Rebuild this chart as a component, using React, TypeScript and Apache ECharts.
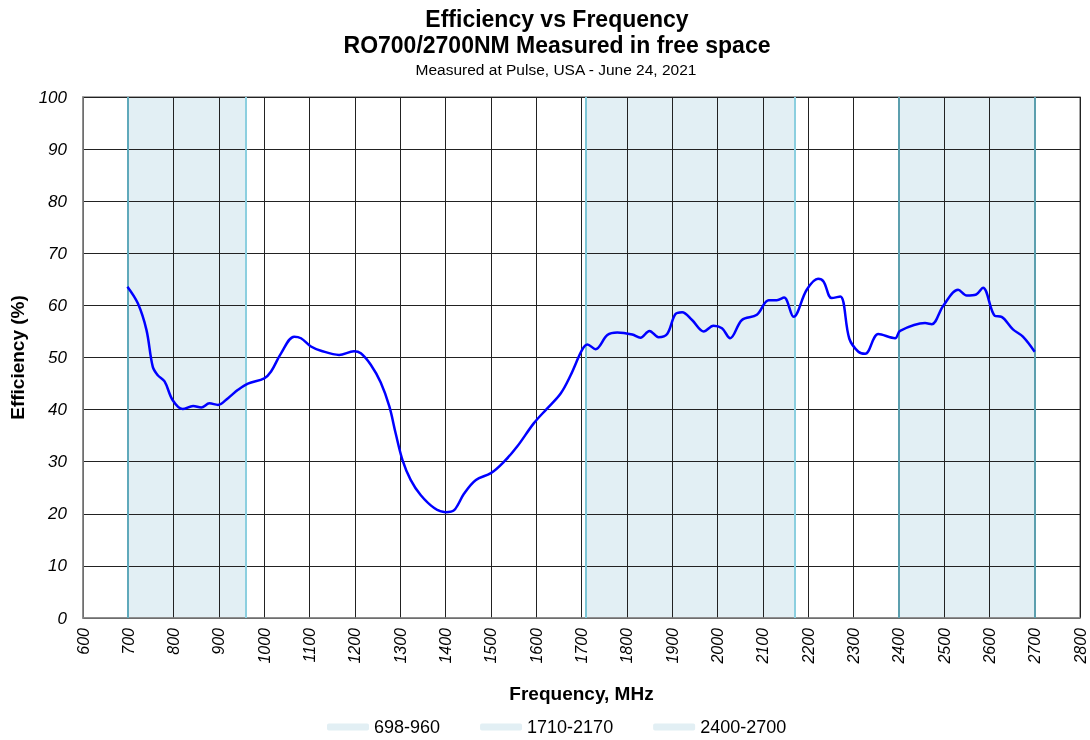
import React, { useEffect, useRef } from "react";
import * as echarts from "echarts";

const freqs = [698, 721, 740, 754, 765, 780, 798, 820, 843, 861, 879, 898, 920, 942, 964, 1000, 1015, 1037, 1066, 1081, 1103, 1125, 1165, 1198, 1213, 1235, 1257, 1276, 1290, 1305, 1323, 1345, 1375, 1400, 1419, 1441, 1467, 1500, 1529, 1558, 1595, 1624, 1654, 1676, 1701, 1713, 1731, 1757, 1779, 1812, 1830, 1850, 1870, 1889, 1907, 1922, 1944, 1970, 1991, 2010, 2028, 2054, 2087, 2113, 2131, 2147, 2168, 2197, 2222, 2234, 2252, 2271, 2291, 2311, 2326, 2355, 2392, 2403, 2458, 2473, 2498, 2531, 2550, 2571, 2586, 2612, 2627, 2652, 2674, 2700];
const efficiency = [63.6, 60.4, 55.3, 48.2, 46.6, 45.4, 41.8, 40.1, 40.7, 40.4, 41.2, 40.9, 42.2, 43.8, 45.0, 46.0, 47.3, 50.8, 54.0, 53.7, 52.1, 51.3, 50.5, 51.2, 50.8, 48.6, 45.2, 40.6, 35.4, 30.3, 26.5, 23.6, 21.1, 20.3, 20.7, 23.9, 26.5, 27.8, 30.0, 32.9, 37.4, 40.2, 43.1, 46.6, 51.4, 52.5, 51.6, 54.3, 54.8, 54.4, 53.8, 55.1, 53.9, 54.5, 58.3, 58.7, 57.2, 55.0, 56.1, 55.6, 53.7, 57.2, 58.2, 61.0, 61.0, 61.5, 57.8, 63.0, 65.1, 64.6, 61.4, 61.7, 53.6, 51.1, 50.7, 54.5, 53.7, 55.1, 56.6, 56.4, 59.9, 63.0, 61.9, 62.1, 63.4, 58.0, 57.8, 55.4, 54.0, 51.1];

const bandNames = ["698-960", "1710-2170", "2400-2700"];
const bandStarts = [698, 1710, 2400];
const bandEnds = [960, 2170, 2700];
const bandEdgeColors = [["#5fa9bb", "#8ccfdf"], ["#7cc6d6", "#8ccfdf"], ["#5c9fae", "#5c9fae"]];

const FONT = "Liberation Sans, Arial, sans-serif";

export default function App() {
  const ref = useRef<HTMLDivElement>(null);
  useEffect(() => {
    if (!ref.current) return;
    const chart = echarts.init(ref.current, null, { renderer: "svg" });
    const bandSeries = bandNames.map((name, i) => ({
      name,
      type: "line",
      data: [],
      color: "#e2eff4",
      itemStyle: { color: "#e2eff4" },
      lineStyle: { color: "#e2eff4" },
      silent: true,
      z: -2,
      markArea: {
        silent: true,
        z: -2,
        itemStyle: { color: "#e2eff4" },
        data: [[{ xAxis: bandStarts[i] }, { xAxis: bandEnds[i] }]],
      },
      markLine: {
        silent: true,
        z: 3,
        symbol: "none",
        label: { show: false },
        data: [
          { xAxis: bandStarts[i], lineStyle: { color: bandEdgeColors[i][0], width: 2, type: "solid" } },
          { xAxis: bandEnds[i], lineStyle: { color: bandEdgeColors[i][1], width: 2, type: "solid" } },
        ],
      },
    }));
    chart.setOption({
      animation: false,
      textStyle: { fontFamily: FONT },
      graphic: [
        { type: "text", x: 557, y: 19, style: { text: "Efficiency vs Frequency", font: `bold 23px ${FONT}`, fill: "#000", textAlign: "center", textVerticalAlign: "middle" } },
        { type: "text", x: 557, y: 45, style: { text: "RO700/2700NM Measured in free space", font: `bold 23px ${FONT}`, fill: "#000", textAlign: "center", textVerticalAlign: "middle" } },
        { type: "text", x: 556, y: 69, style: { text: "Measured at Pulse, USA - June 24, 2021", font: `15.5px ${FONT}`, fill: "#000", textAlign: "center", textVerticalAlign: "middle" } },
      ],
      legend: {
        data: bandNames,
        left: 322,
        top: 713,
        icon: "roundRect",
        itemWidth: 42,
        itemHeight: 7,
        itemGap: 40,
        textStyle: { fontSize: 18, color: "#000", fontFamily: FONT },
      },
      grid: {
        left: 82,
        right: 10,
        top: 97,
        bottom: 122,
        show: true,
        borderColor: "#888",
        borderWidth: 1.5,
        backgroundColor: "transparent",
      },
      xAxis: {
        type: "value",
        min: 600,
        max: 2800,
        interval: 100,
        name: "Frequency, MHz",
        nameLocation: "middle",
        nameGap: 66,
        nameTextStyle: { fontSize: 19, fontWeight: "bold", color: "#000", fontFamily: FONT },
        axisLine: { show: true, lineStyle: { color: "#888", width: 1.5 } },
        axisTick: { show: false },
        axisLabel: { rotate: 90, fontSize: 16, fontStyle: "italic", color: "#000", margin: 10, fontFamily: FONT, formatter: (v: number) => String(v) },
        splitLine: { show: true, lineStyle: { color: "#222", width: 1 } },
      },
      yAxis: {
        type: "value",
        min: 0,
        max: 100,
        interval: 10,
        name: "Efficiency (%)",
        nameLocation: "middle",
        nameGap: 56,
        nameTextStyle: { fontSize: 19, fontWeight: "bold", color: "#000", fontFamily: FONT },
        axisLine: { show: true, lineStyle: { color: "#888", width: 1.5 } },
        axisTick: { show: false },
        axisLabel: { fontSize: 17, fontStyle: "italic", color: "#000", margin: 16, fontFamily: FONT },
        splitLine: { show: true, lineStyle: { color: "#222", width: 1 } },
      },
      series: [
        ...bandSeries,
        {
          name: "Efficiency",
          type: "line",
          data: freqs.map((f, i) => [f, efficiency[i]]),
          smooth: 0.35,
          showSymbol: false,
          lineStyle: { color: "#0000ff", width: 2.5 },
          itemStyle: { color: "#0000ff" },
          z: 5,
        },
      ],
    });
    return () => chart.dispose();
  }, []);
  return <div ref={ref} style={{ position: "fixed", left: 0, top: 0, width: 1090, height: 740 }} />;
}
